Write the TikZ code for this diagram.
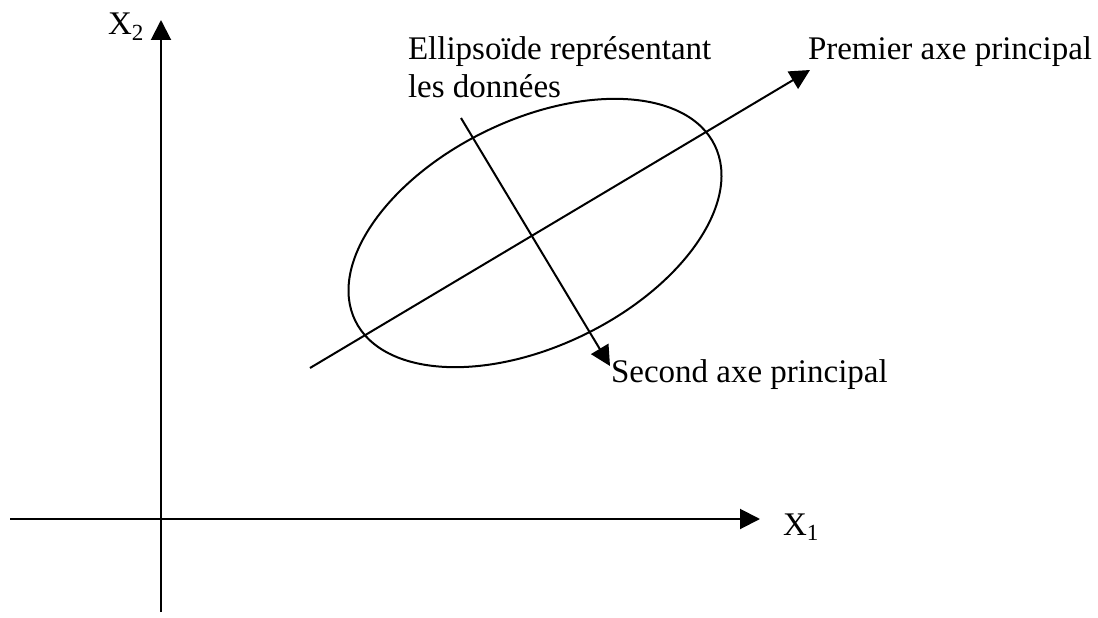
\documentclass[tikz,border=0pt]{standalone}
\usepackage{fontspec}
\setmainfont{Liberation Serif}
\usepackage{tikz}
\usetikzlibrary{arrows.meta,positioning}

\tikzset{
  fleche/.style={-{Triangle[length=10pt,width=10pt]}},
  etiq/.style={anchor=base west,inner sep=0pt,font=\fontsize{16.5}{19}\selectfont}
}

\begin{document}
\begin{tikzpicture}[line width=1pt,x=0.5pt,y=0.5pt]
		\useasboundingbox (0,0) rectangle (1098,617);
		% axes
		\coordinate (O) at (161,98);
		\coordinate (Xg) at (10,98);
		\coordinate (Xd) at (760,98);
		\coordinate (Yb) at (161,5);
		\coordinate (Yh) at (161,597);
		\draw[fleche] (Xg)--(Xd);
		\draw[fleche] (Yb)--(Yh);
		\node[etiq] (x1) at (782,82) {X\textsubscript{1}};
		\node[etiq] (x2) at (107,582) {X\textsubscript{2}};
		% ellipse des donnees
		\coordinate (C) at (535,384);
		\draw[rotate around={26:(C)}] (C) ellipse [x radius=200,y radius=113];
		% axes principaux
		\coordinate (A1) at (310,249);
		\coordinate (B1) at (810,547);
		\coordinate (A2) at (461,499);
		\coordinate (B2) at (610,251);
		\draw[fleche] (A1)--(B1);
		\draw[fleche] (A2)--(B2);
		\node[etiq] (prem) at (807,557) {Premier axe principal};
		\node[etiq] (sec) at (610,235) {Second axe principal};
		\node[etiq] (ell) at (407,557) {Ellipsoïde représentant};
		\node[etiq] (don) at (407,519) {les données};
\end{tikzpicture}
\end{document}
